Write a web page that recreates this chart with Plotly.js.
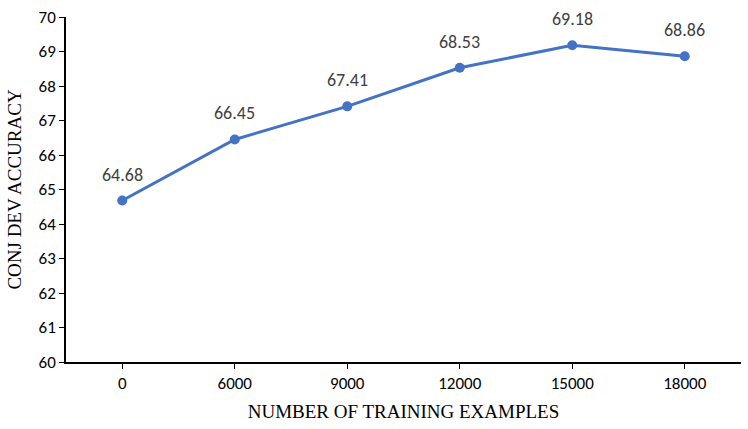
<!DOCTYPE html>
<html>
<head>
<meta charset="utf-8">
<script src="https://cdn.plot.ly/plotly-3.0.1.min.js"></script>
<style>
  html, body { margin: 0; padding: 0; background: #fff; }
  #chart { width: 748px; height: 429px; }
</style>
</head>
<body>
<div id="chart"></div>
<script>
// training set sizes (categorical axis) and dev accuracy
const train_sizes = ["0", "6000", "9000", "12000", "15000", "18000"];
const dev_accuracy = [64.68, 66.45, 67.41, 68.53, 69.18, 68.86];
const y_ticks = [60, 61, 62, 63, 64, 65, 66, 67, 68, 69, 70];

let accuracy_line = {
  x: train_sizes,
  y: dev_accuracy,
  type: "scatter",
  mode: "lines+markers",
  line: { color: "#4472C4", width: 3 },
  marker: { color: "#4472C4", size: 10 },
  cliponaxis: false,
  hoverinfo: "x+y",
};

// value labels above each point (x as category index, numeric-looking
// category names would otherwise be read as positions)
let labels = train_sizes.map((x, i) => ({
  x: i,
  y: dev_accuracy[i],
  text: dev_accuracy[i].toFixed(2),
  showarrow: false,
  yshift: 26,
  font: { family: "Carlito, Lato, 'Open Sans', sans-serif", size: 18, color: "#404040" },
}));

let layout = {
  width: 748,
  height: 429,
  margin: { l: 66, r: 7, t: 17, b: 67 },
  paper_bgcolor: "#fff",
  plot_bgcolor: "#fff",
  showlegend: false,
  annotations: labels,
  font: { family: "Carlito, Lato, 'Open Sans', sans-serif", size: 17, color: "#000" },
  xaxis: {
    type: "category",
    range: [-0.5, 5.5],
    showgrid: false,
    zeroline: false,
    showline: true,
    linecolor: "#000",
    linewidth: 1.5,
    ticks: "outside",
    ticklen: 5,
    tickcolor: "#000",
    tickwidth: 1.3,
    tickfont: { size: 17, color: "#000" },
    title: {
      text: "NUMBER OF TRAINING EXAMPLES",
      font: { family: "'Liberation Serif', 'Times New Roman', serif", size: 19, color: "#000" },
      standoff: 12,
    },
  },
  yaxis: {
    range: [60, 70],
    tickvals: y_ticks,
    showgrid: false,
    zeroline: false,
    showline: true,
    linecolor: "#000",
    linewidth: 1.5,
    ticks: "outside",
    ticklen: 5,
    tickcolor: "#000",
    tickwidth: 1.3,
    tickfont: { size: 17, color: "#000" },
    title: {
      text: "CONJ DEV ACCURACY",
      font: { family: "'Liberation Serif', 'Times New Roman', serif", size: 19, color: "#000" },
      standoff: 12,
    },
  },
};

Plotly.newPlot("chart", [accuracy_line], layout, {
  displaylogo: false,
  displayModeBar: false,
  responsive: false,
});
</script>
</body>
</html>
